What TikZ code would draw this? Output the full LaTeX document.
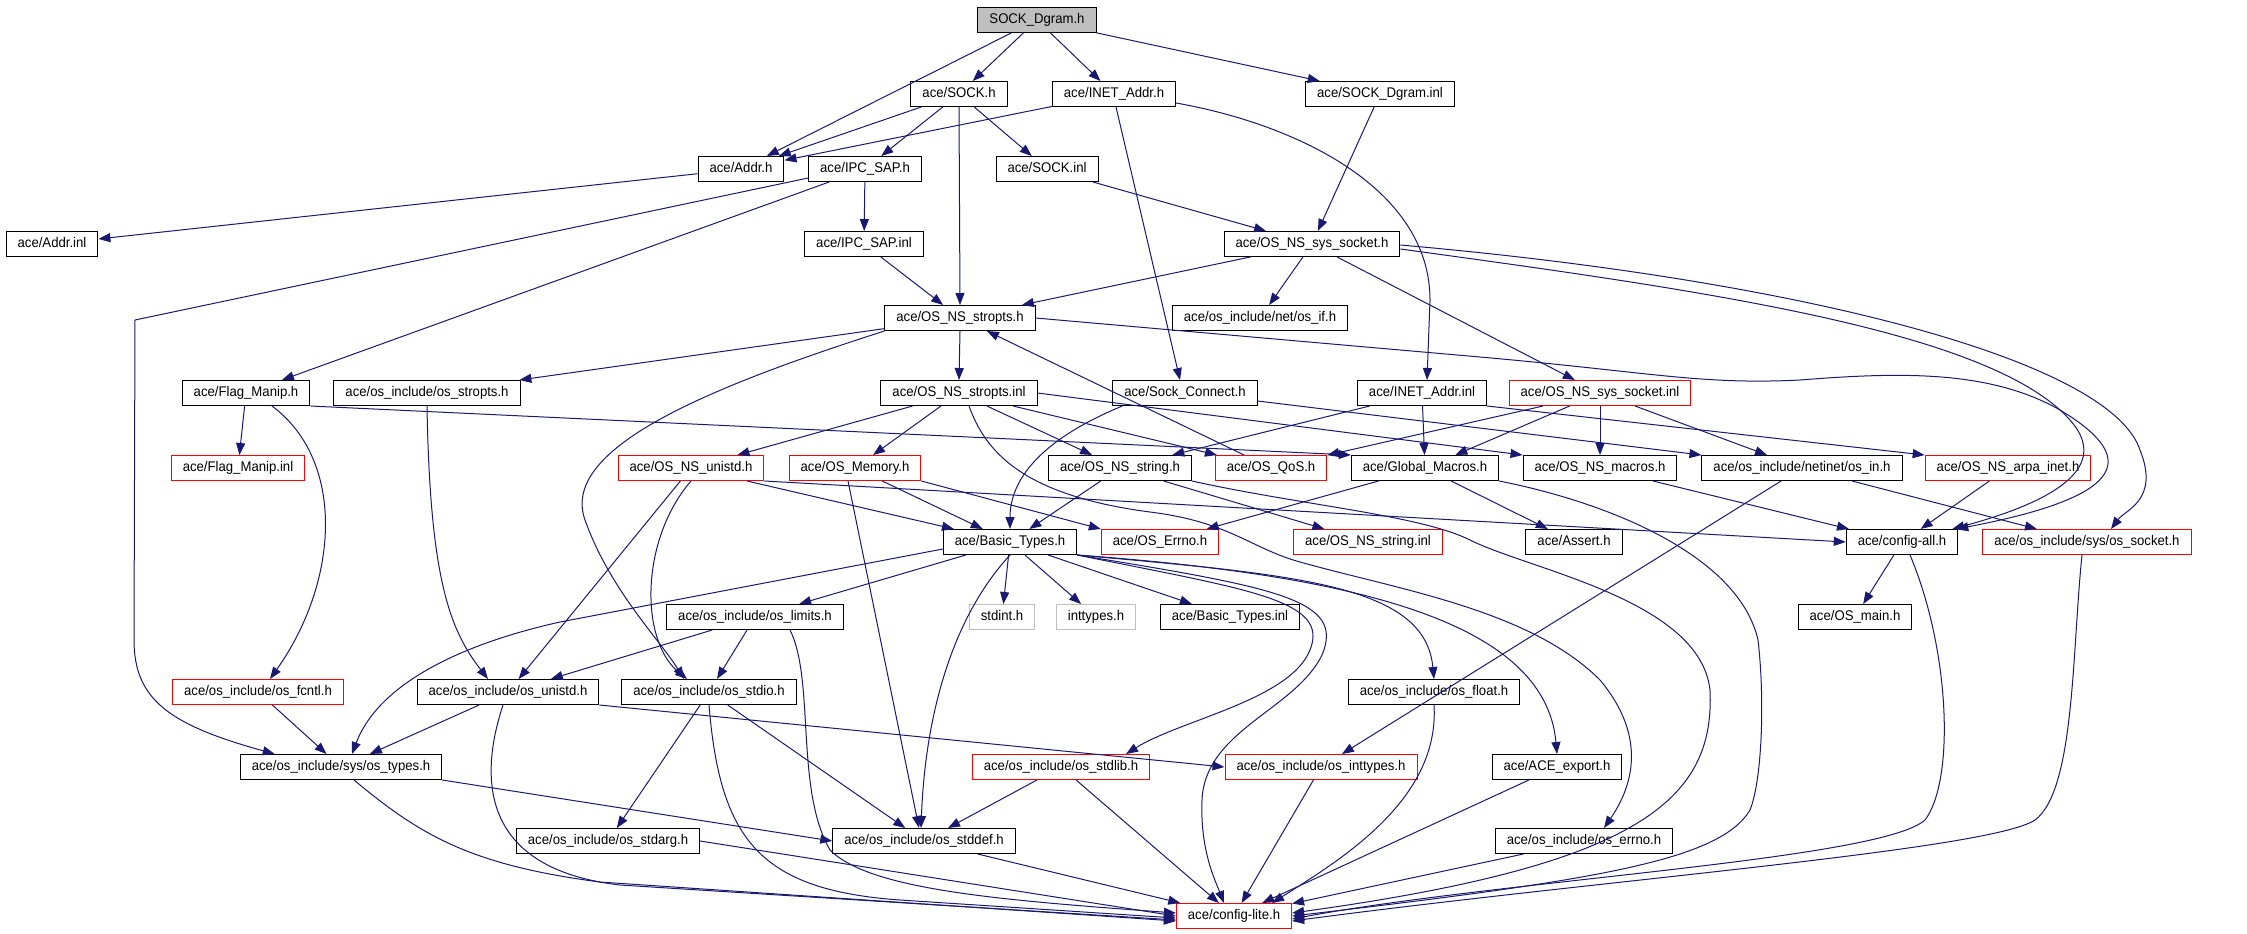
\documentclass[tikz,border=0pt]{standalone}
\usepackage{fontspec}
\setmainfont{Liberation Sans}[FakeStretch=0.94]
\definecolor{edgeblue}{RGB}{25, 25, 112}
\definecolor{cutred}{RGB}{255, 0, 0}
\definecolor{rootgray}{RGB}{191, 191, 191}
\usetikzlibrary{arrows.meta, calc}

\begin{document}
\begin{tikzpicture}[x=0.5pt, y=-0.5pt,
  hdr/.style={draw=black, line width=0.5pt, font=\fontsize{7}{8}\selectfont, inner xsep=5.75pt, inner ysep=0pt, minimum height=12.5pt, text height=5.2pt, text depth=1.5pt},
  hdrcut/.style={hdr, draw=cutred},
  hdrsys/.style={hdr, draw=rootgray},
  hdrroot/.style={hdr, fill=rootgray},
  inc/.style={draw=edgeblue, line width=0.5pt, -{Triangle[length=6pt, width=4.5pt]}}]
  \useasboundingbox (0,0) rectangle (2247,933);

  % root
  \node[hdrroot] (dgram) at (1037,20) {SOCK\_Dgram.h};

  % direct includes
  \node[hdr] (sock) at (959,94) {ace/SOCK.h};
  \node[hdr] (inetaddr) at (1114,94) {ace/INET\_Addr.h};
  \node[hdr] (dgraminl) at (1380,94) {ace/SOCK\_Dgram.inl};

  \node[hdr] (addr) at (741,169) {ace/Addr.h};
  \node[hdr] (ipcsap) at (865,169) {ace/IPC\_SAP.h};
  \node[hdr] (sockinl) at (1047,169) {ace/SOCK.inl};

  \node[hdr] (addrinl) at (52,244) {ace/Addr.inl};
  \node[hdr] (ipcsapinl) at (864,244) {ace/IPC\_SAP.inl};
  \node[hdr] (syssock) at (1312,244) {ace/OS\_NS\_sys\_socket.h};

  \node[hdr] (stropts) at (960,318) {ace/OS\_NS\_stropts.h};
  \node[hdr] (osif) at (1260,318) {ace/os\_include/net/os\_if.h};

  \node[hdr] (flagmanip) at (246,393) {ace/Flag\_Manip.h};
  \node[hdr] (osstropts) at (427,393) {ace/os\_include/os\_stropts.h};
  \node[hdr] (stroptsinl) at (959,393) {ace/OS\_NS\_stropts.inl};
  \node[hdr] (sockconn) at (1185,393) {ace/Sock\_Connect.h};
  \node[hdr] (inetaddrinl) at (1422,393) {ace/INET\_Addr.inl};
  \node[hdrcut] (syssockinl) at (1600,393) {ace/OS\_NS\_sys\_socket.inl};

  \node[hdrcut] (flagmanipinl) at (238,468) {ace/Flag\_Manip.inl};
  \node[hdrcut] (nsunistd) at (691,468) {ace/OS\_NS\_unistd.h};
  \node[hdrcut] (osmemory) at (855,468) {ace/OS\_Memory.h};
  \node[hdr] (nsstring) at (1120,468) {ace/OS\_NS\_string.h};
  \node[hdrcut] (qos) at (1271,468) {ace/OS\_QoS.h};
  \node[hdr] (globmacros) at (1425,468) {ace/Global\_Macros.h};
  \node[hdr] (nsmacros) at (1600,468) {ace/OS\_NS\_macros.h};
  \node[hdr] (osin) at (1802,468) {ace/os\_include/netinet/os\_in.h};
  \node[hdrcut] (arpainet) at (2008,468) {ace/OS\_NS\_arpa\_inet.h};

  \node[hdr] (basictypes) at (1010,542) {ace/Basic\_Types.h};
  \node[hdrcut] (errno) at (1160,542) {ace/OS\_Errno.h};
  \node[hdrcut] (nsstringinl) at (1368,542) {ace/OS\_NS\_string.inl};
  \node[hdr] (assert) at (1574,542) {ace/Assert.h};
  \node[hdr] (configall) at (1902,542) {ace/config-all.h};
  \node[hdrcut] (ossocket) at (2087,542) {ace/os\_include/sys/os\_socket.h};

  \node[hdr] (oslimits) at (755,617) {ace/os\_include/os\_limits.h};
  \node[hdrsys] (stdint) at (1002,617) {stdint.h};
  \node[hdrsys] (inttypes) at (1096,617) {inttypes.h};
  \node[hdr] (basictypesinl) at (1230,617) {ace/Basic\_Types.inl};
  \node[hdr] (osmain) at (1855,617) {ace/OS\_main.h};

  \node[hdrcut] (osfcntl) at (258,692) {ace/os\_include/os\_fcntl.h};
  \node[hdr] (osunistd) at (508,692) {ace/os\_include/os\_unistd.h};
  \node[hdr] (osstdio) at (709,692) {ace/os\_include/os\_stdio.h};
  \node[hdr] (osfloat) at (1434,692) {ace/os\_include/os\_float.h};

  \node[hdr] (ostypes) at (341,767) {ace/os\_include/sys/os\_types.h};
  \node[hdrcut] (osstdlib) at (1061,767) {ace/os\_include/os\_stdlib.h};
  \node[hdrcut] (osinttypes) at (1321,767) {ace/os\_include/os\_inttypes.h};
  \node[hdr] (aceexport) at (1557,767) {ace/ACE\_export.h};

  \node[hdr] (osstdarg) at (608,841) {ace/os\_include/os\_stdarg.h};
  \node[hdr] (osstddef) at (924,841) {ace/os\_include/os\_stddef.h};
  \node[hdr] (oserrno) at (1584,841) {ace/os\_include/os\_errno.h};

  \node[hdrcut] (configlite) at (1234,916) {ace/config-lite.h};

  % SOCK_Dgram.h
  \draw[inc] (dgram) -- (addr);
  \draw[inc] (dgram) -- (sock);
  \draw[inc] (dgram) -- (inetaddr);
  \draw[inc] (dgram) -- (dgraminl);

  % ace/SOCK.h
  \draw[inc] (sock) -- (addr);
  \draw[inc] (sock) -- (ipcsap);
  \draw[inc] (sock) -- (sockinl);
  \draw[inc] (sock.south) -- (stropts.north);

  % ace/INET_Addr.h
  \draw[inc] (inetaddr) -- (addr);
  \draw[inc] ($(inetaddr.south)+(2,0)$) -- ($(sockconn.north)-(5,0)$);
  \draw[inc] ($(inetaddr.east)+(0,9)$) .. controls (1300,125) and (1430,190) .. (1430,300) -- ($(inetaddrinl.north)+(5,0)$);

  % ace/SOCK_Dgram.inl, ace/Addr.h, ace/SOCK.inl, ace/IPC_SAP.inl
  \draw[inc] (dgraminl) -- (syssock);
  \draw[inc] (addr) -- (addrinl);
  \draw[inc] (sockinl) -- (syssock);
  \draw[inc] (ipcsapinl) -- (stropts);

  % ace/IPC_SAP.h
  \draw[inc] (ipcsap) -- (ipcsapinl);
  \draw[inc] (ipcsap) -- (flagmanip);
  \draw[inc] ($(ipcsap.west)+(0,9)$) -- (135,320) -- (134,640) .. controls (134,700) and (170,725) .. ($(ostypes.north west)+(35,0)$);

  % ace/OS_NS_sys_socket.h
  \draw[inc] (syssock) -- (stropts);
  \draw[inc] (syssock) -- (osif);
  \draw[inc] (syssock) -- (syssockinl);
  \draw[inc] ($(syssock.east)+(0,5)$) .. controls (1700,290) and (1990,330) .. (2070,420) .. controls (2110,465) and (2060,500) .. ($(configall.north east)-(6,0)$);
  \draw[inc] ($(syssock.east)+(0,1)$) .. controls (1800,280) and (2110,360) .. (2140,450) .. controls (2160,500) and (2125,510) .. ($(ossocket.north)+(24,0)$);

  % ace/OS_NS_stropts.h
  \draw[inc] (stropts.south) -- (stroptsinl.north);
  \draw[inc] (stropts) -- (osstropts);
  \draw[inc] (stropts.south west) .. controls (700,390) and (560,450) .. (585,520) .. controls (610,590) and (660,640) .. ($(osstdio.north)-(25,0)$);
  \draw[inc] (stropts.east) -- (1480,357) .. controls (1650,372) and (1700,385) .. (1800,380) .. controls (1900,372) and (1990,370) .. (2060,410) .. controls (2135,455) and (2135,495) .. ($(configall.north east)-(2,0)$);

  % ace/Flag_Manip.h
  \draw[inc] (flagmanip) -- (flagmanipinl);
  \draw[inc] ($(flagmanip.south)+(26,0)$) .. controls (345,460) and (340,580) .. ($(osfcntl.north)+(12,0)$);
  \draw[inc] (flagmanip.south east) -- (globmacros.north west);

  % ace/os_include/os_stropts.h
  \draw[inc] (osstropts.south) .. controls (430,580) and (450,630) .. ($(osunistd.north)-(20,0)$);

  % ace/OS_NS_stropts.inl
  \draw[inc] (stroptsinl) -- (nsunistd);
  \draw[inc] (stroptsinl) -- (osmemory);
  \draw[inc] (stroptsinl) -- (nsstring);
  \draw[inc] (stroptsinl) -- (qos);
  \draw[inc] (stroptsinl.east) -- (nsmacros.north west);
  \draw[inc] ($(stroptsinl.south)+(10,0)$) .. controls (985,450) and (1020,495) .. (1150,512) .. controls (1230,522) and (1250,548) .. (1300,562) .. controls (1400,590) and (1530,610) .. (1600,680) .. controls (1650,740) and (1630,790) .. ($(oserrno.north)+(20,0)$);

  % ace/Sock_Connect.h
  \draw[inc] ($(sockconn.south west)+(10,0)$) .. controls (1040,440) and (1010,480) .. (basictypes.north);
  \draw[inc] ($(sockconn.east)+(0,8)$) -- (osin.north west);

  % ace/INET_Addr.inl
  \draw[inc] (inetaddrinl) -- (nsstring);
  \draw[inc] (inetaddrinl) -- (globmacros);
  \draw[inc] (inetaddrinl.south east) -- (arpainet.north west);

  % ace/OS_NS_sys_socket.inl
  \draw[inc] (syssockinl) -- (qos);
  \draw[inc] (syssockinl) -- (globmacros);
  \draw[inc] (syssockinl) -- (nsmacros);
  \draw[inc] (syssockinl) -- (osin);

  % ace/OS_QoS.h
  \draw[inc] (qos) -- (stropts);

  % ace/OS_NS_unistd.h
  \draw[inc] (nsunistd) -- (basictypes);
  \draw[inc] (nsunistd) -- (osunistd);
  \draw[inc] (nsunistd.south) .. controls (640,540) and (640,640) .. ($(osstdio.north)-(22,0)$);
  \draw[inc] (nsunistd.south east) -- (configall.west);

  % ace/OS_Memory.h
  \draw[inc] (osmemory) -- (basictypes);
  \draw[inc] (osmemory.south east) -- (errno.north west);
  \draw[inc] ($(osmemory.south)-(7,0)$) -- ($(osstddef.north)-(5,0)$);

  % ace/OS_NS_string.h
  \draw[inc] (nsstring) -- (basictypes);
  \draw[inc] (nsstring) -- (nsstringinl);
  \draw[inc] (nsstring.south east) .. controls (1300,505) and (1420,515) .. (1470,540) .. controls (1530,570) and (1700,600) .. (1710,690) .. controls (1715,800) and (1640,865) .. ($(configlite.east)+(0,-3)$);

  % ace/Global_Macros.h
  \draw[inc] (globmacros) -- (errno);
  \draw[inc] (globmacros) -- (assert);
  \draw[inc] (globmacros.south east) .. controls (1620,505) and (1740,560) .. (1758,640) .. controls (1765,700) and (1762,780) .. (1750,810) .. controls (1720,860) and (1600,880) .. (configlite.east);

  % ace/OS_NS_macros.h, netinet/os_in.h, ace/OS_NS_arpa_inet.h
  \draw[inc] (nsmacros) -- (configall);
  \draw[inc] (osin) -- (ossocket);
  \draw[inc] (osin) -- (osinttypes);
  \draw[inc] (arpainet) -- (configall);

  % ace/config-all.h
  \draw[inc] (configall) -- (osmain);
  \draw[inc] ($(configall.south)+(8,0)$) .. controls (1950,650) and (1955,780) .. (1925,820) .. controls (1880,860) and (1500,880) .. ($(configlite.east)+(0,3)$);

  % ace/os_include/sys/os_socket.h
  \draw[inc] ($(ossocket.south)-(5,0)$) .. controls (2072,650) and (2075,790) .. (2035,820) .. controls (1990,850) and (1600,880) .. ($(configlite.east)+(0,5)$);

  % ace/Basic_Types.h
  \draw[inc] (basictypes) -- (oslimits);
  \draw[inc] ($(basictypes.west)+(0,7)$) -- (560,622) .. controls (470,642) and (380,680) .. ($(ostypes.north)+(11,0)$);
  \draw[inc] (basictypes) -- (stdint);
  \draw[inc] (basictypes) -- (inttypes);
  \draw[inc] (basictypes) -- (basictypesinl);
  \draw[inc] (basictypes.south) .. controls (950,620) and (925,720) .. ($(osstddef.north)-(3,0)$);
  \draw[inc] (basictypes.south east) .. controls (1250,590) and (1330,600) .. (1310,650) .. controls (1290,700) and (1180,720) .. ($(osstdlib.north)+(65,0)$);
  \draw[inc] (basictypes.south east) .. controls (1280,588) and (1345,600) .. (1322,655) .. controls (1295,710) and (1205,730) .. (1202,800) .. controls (1200,850) and (1215,880) .. ($(configlite.north)-(10,0)$);
  \draw[inc] (basictypes.south east) .. controls (1300,575) and (1425,585) .. (osfloat.north);
  \draw[inc] (basictypes.south east) .. controls (1350,575) and (1545,620) .. (aceexport.north);

  % ace/os_include/os_limits.h
  \draw[inc] (oslimits) -- (osunistd);
  \draw[inc] (oslimits) -- (osstdio);
  \draw[inc] ($(oslimits.south)+(35,0)$) .. controls (815,680) and (795,790) .. (830,850) .. controls (870,890) and (1000,900) .. ($(configlite.west)+(0,-3)$);

  % os_fcntl.h, os_unistd.h, os_stdio.h
  \draw[inc] (osfcntl) -- (ostypes);
  \draw[inc] (osunistd) -- (ostypes);
  \draw[inc] (osunistd.south east) -- (osinttypes.west);
  \draw[inc] ($(osunistd.south)-(5,0)$) .. controls (475,790) and (490,870) .. (620,885) -- ($(configlite.west)+(0,4)$);
  \draw[inc] (osstdio) -- (osstdarg);
  \draw[inc] (osstdio) -- (osstddef);
  \draw[inc] (osstdio.south) .. controls (720,840) and (760,890) .. (900,900) -- ($(configlite.west)+(0,2)$);

  % lower rows into ace/config-lite.h
  \draw[inc] (osfloat.south) .. controls (1440,800) and (1340,860) .. ($(configlite.north east)-(20,0)$);
  \draw[inc] (ostypes.south east) -- (osstddef.west);
  \draw[inc] ($(ostypes.south)+(13,0)$) .. controls (420,835) and (470,865) .. (600,882) -- ($(configlite.west)+(0,5)$);
  \draw[inc] (osstdlib) -- (osstddef);
  \draw[inc] (osstdlib) -- (configlite);
  \draw[inc] (osinttypes) -- (configlite);
  \draw[inc] (aceexport) -- (configlite);
  \draw[inc] (osstdarg.east) -- (configlite.west);
  \draw[inc] (osstddef) -- (configlite);
  \draw[inc] (oserrno) -- (configlite);
\end{tikzpicture}
\end{document}
